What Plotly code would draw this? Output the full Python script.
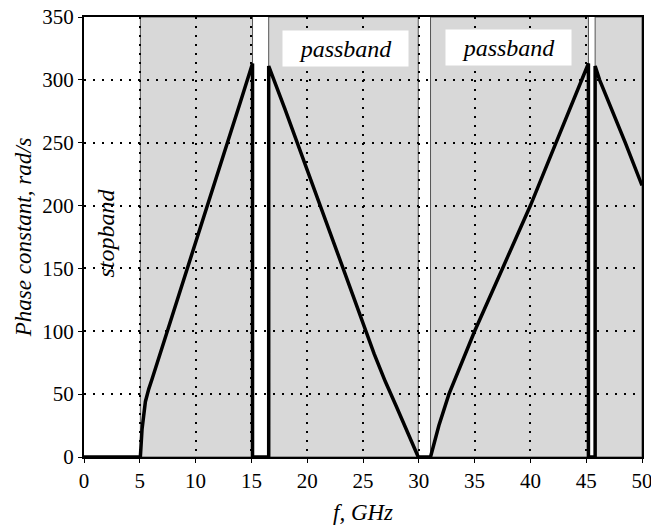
import plotly.graph_objects as go

# ---- data ----
# branch 1 (rising), first passband
f1 = [0, 5.05, 5.2, 5.5, 5.8, 6.1, 8, 10, 12, 14, 15.1]
b1 = [0, 0, 22, 44, 54, 62, 115, 170, 226, 282, 313]
# stop gap 1 (curve sits on zero)
f_gap1 = [15.1, 15.1, 16.55, 16.55]
b_gap1 = [313, 0, 0, 311]
# branch 2 (falling)
f2 = [16.55, 18, 20, 22, 24, 26, 27, 28, 29, 29.95]
b2 = [311, 277, 229, 180, 131, 82, 60, 40, 20, 0]
# stop gap 2
f_gap2 = [29.95, 31.05]
b_gap2 = [0, 0]
# branch 3 (rising)
f3 = [31.05, 31.8, 32.7, 35, 37.5, 40, 42.3, 44.6, 45.2]
b3 = [0, 25, 50, 100, 150, 200, 250, 300, 313]
# stop gap 3
f_gap3 = [45.2, 45.2, 45.8, 45.8]
b_gap3 = [313, 0, 0, 311]
# branch 4 (falling)
f4 = [45.8, 46.2, 48.5, 50]
b4 = [311, 300, 250, 216]

# passband limits (shaded regions)
pass_start = [5.05, 16.55, 31.05, 45.8]
pass_end = [15.1, 29.95, 45.2, 50]

x_ticks = [0, 5, 10, 15, 20, 25, 30, 35, 40, 45, 50]
y_ticks = [0, 50, 100, 150, 200, 250, 300, 350]

# labels
band_labels = ["stopband", "passband", "passband"]
label_x = [2.0, 23.43, 38.0]
label_y = [178, 325, 326]
x_title = "f, GHz"
y_title = "Phase constant, rad/s"

freq = f1 + f_gap1 + f2 + f_gap2 + f3 + f_gap3 + f4
phase = b1 + b_gap1 + b2 + b_gap2 + b3 + b_gap3 + b4

serif = "Liberation Serif"

fig = go.Figure()
fig.add_trace(go.Scatter(x=freq, y=phase, mode="lines",
                         line=dict(color="black", width=3.5),
                         hoverinfo="skip"))

for s, e in zip(pass_start, pass_end):
    fig.add_shape(type="rect", xref="x", yref="y", x0=s, x1=e, y0=0, y1=350,
                  fillcolor="#d8d8d8", line=dict(color="#555555", width=1),
                  layer="below")

# stopband label (vertical)
fig.add_annotation(x=label_x[0], y=label_y[0], xref="x", yref="y",
                   text="<i>" + band_labels[0] + "</i>", textangle=-90,
                   showarrow=False, font=dict(family=serif, size=24, color="black"))
# passband labels (white boxes)
for t, xx, yy in zip(band_labels[1:], label_x[1:], label_y[1:]):
    fig.add_annotation(x=xx, y=yy, xref="x", yref="y",
                       text="<i>" + t + "</i>", showarrow=False,
                       bgcolor="white", width=121, height=31, borderpad=2,
                       font=dict(family=serif, size=24, color="black"))

# axis titles
fig.add_annotation(x=0.5, y=-0.125, xref="paper", yref="paper",
                   text="<i>" + x_title + "</i>", showarrow=False,
                   xanchor="center", yanchor="middle",
                   font=dict(family=serif, size=23, color="black"))
fig.add_annotation(x=-0.109, y=0.5, xref="paper", yref="paper",
                   text="<i>" + y_title + "</i>", showarrow=False,
                   textangle=-90, xanchor="center", yanchor="middle",
                   font=dict(family=serif, size=23, color="black"))

axis_common = dict(showgrid=True, gridcolor="black", griddash="2px,7px",
                   gridwidth=1.6, showline=True, linecolor="black",
                   linewidth=2, mirror=True, ticks="outside", ticklen=4,
                   tickcolor="black", zeroline=False, automargin=False,
                   ticklabeloverflow="allow",
                   tickfont=dict(family=serif, size=21, color="black"))

fig.update_xaxes(range=[0, 50], tickvals=x_ticks, **axis_common)
fig.update_yaxes(range=[0, 350], tickvals=y_ticks, **axis_common)

fig.update_layout(width=651, height=529,
                  margin=dict(l=84, r=9, t=17, b=72, autoexpand=False),
                  plot_bgcolor="white", paper_bgcolor="white",
                  showlegend=False)

fig.write_html("out.html", config={"displayModeBar": False},
               post_script="document.body.style.margin='0';"
                           "document.body.style.overflow='hidden';")
